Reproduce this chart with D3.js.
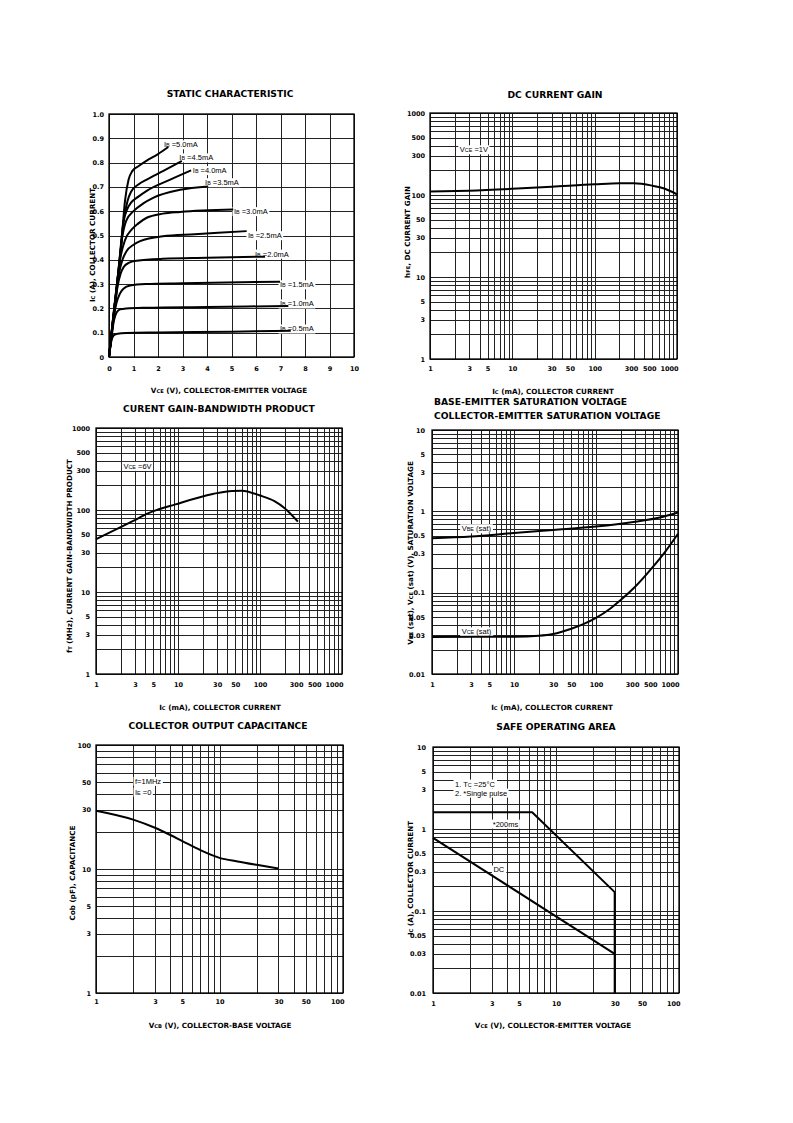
<!DOCTYPE html>
<html><head><meta charset="utf-8"><title>Transistor characteristics</title>
<script src="https://cdn.jsdelivr.net/npm/d3@7/dist/d3.min.js"></script>
<style>
html,body{margin:0;padding:0;background:#fff;}
svg{display:block;}
text{white-space:pre;}
</style></head><body>
<svg id="page" width="793" height="1123"></svg>
<script>
// ================= DATA =================
// Static characteristic (Vce [V], Ic [A]) for each base current
const staticXTicks = [0,1,2,3,4,5,6,7,8,9,10];
const staticYTicks = [0,0.1,0.2,0.3,0.4,0.5,0.6,0.7,0.8,0.9,1.0];
const ibNames = ["0.5","1.0","1.5","2.0","2.5","3.0","3.5","4.0","4.5","5.0"];
const ib05 = [[0,0],[0.05,0.04],[0.12,0.075],[0.2,0.09],[0.35,0.096],[0.7,0.099],[2,0.101],[5,0.104],[7.42,0.108]];
const ib10 = [[0,0],[0.1,0.08],[0.2,0.15],[0.31,0.183],[0.45,0.196],[0.7,0.2],[1.5,0.203],[4,0.206],[7.32,0.21]];
const ib15 = [[0,0],[0.15,0.13],[0.3,0.22],[0.45,0.262],[0.6,0.282],[0.86,0.294],[1.5,0.3],[3,0.303],[6.98,0.31]];
const ib20 = [[0,0],[0.2,0.18],[0.35,0.29],[0.48,0.345],[0.6,0.37],[0.8,0.387],[1.13,0.396],[2.2,0.404],[4,0.408],[6.37,0.413]];
const ib25 = [[0,0],[0.25,0.23],[0.4,0.34],[0.55,0.4],[0.72,0.436],[1,0.462],[1.27,0.477],[2.2,0.497],[3.5,0.505],[5.62,0.518]];
const ib30 = [[0,0],[0.3,0.28],[0.45,0.4],[0.65,0.48],[0.93,0.525],[1.2,0.55],[1.54,0.573],[2.2,0.59],[2.9,0.597],[5.07,0.607]];
const ib35 = [[0,0],[0.35,0.32],[0.52,0.48],[0.7,0.56],[1,0.6],[1.4,0.632],[1.8,0.655],[2.9,0.688],[4.05,0.702]];
const ib40 = [[0,0],[0.4,0.37],[0.58,0.55],[0.75,0.61],[0.9,0.635],[1.2,0.66],[1.54,0.684],[2.5,0.73],[3.35,0.768]];
const ib45 = [[0,0],[0.45,0.41],[0.6,0.56],[0.75,0.64],[0.9,0.68],[1.2,0.71],[1.54,0.73],[2.2,0.765],[2.97,0.807]];
const ib50 = [[0,0],[0.5,0.46],[0.65,0.64],[0.8,0.73],[0.95,0.765],[1.2,0.785],[1.54,0.808],[2,0.835],[2.42,0.864]];
const ibCurves = [ib05,ib10,ib15,ib20,ib25,ib30,ib35,ib40,ib45,ib50];
const ibLabelAt = [[6.98,0.128],[6.98,0.231],[6.98,0.31],[5.96,0.436],[5.67,0.512],[5.1,0.611],[3.92,0.73],[3.42,0.78],[2.87,0.832],[2.24,0.886]];

// log tick labels
const ticks1k = [1,3,5,10,30,50,100,300,500,1000];
const ticks100 = [1,3,5,10,30,50,100];
const ticksMilli = [0.01,0.03,0.05,0.1,0.3,0.5,1,3,5,10];

// DC current gain (Ic mA -> hFE)
const dcIc  = [1,3,10,30,100,200,300,500,700,1000];
const dcHfe = [110,113,119,126,135,139,139,130,120,102];
const dcLabelAt = [2.3,388];

// Gain-bandwidth product (Ic mA -> fT MHz)
const ftIc = [1,2.8,4.3,9.3,26.6,45.7,60,100,150,200,290];
const ftMHz = [44,73,91,117,157,171,172,150,128,105,72];
const ftLabelAt = [2.16,371];

// Saturation voltages (Ic mA -> V)
const vbeIc = [1,3,10,30,100,300,600,1000];
const vbeSat = [0.466,0.49,0.542,0.59,0.65,0.746,0.84,0.97];
const vceIc = [1,10,20,30,50,70,100,150,200,300,500,700,1000];
const vceSat = [0.0286,0.0287,0.0295,0.031,0.036,0.041,0.049,0.064,0.081,0.118,0.21,0.32,0.53];
const vbeLabelAt = [2.3,0.667];
const vceLabelAt = [2.3,0.036];

// Collector output capacitance (Vcb V -> Cob pF)
const cobV = [1,2,3,4,5,7,10,14,20,30];
const cobPf = [29.5,25,21.5,18.8,16.8,14.2,12.3,11.5,10.8,10.1];
const cobLabelAt = [[2.07,53.9],[2.07,44.2]];

// Safe operating area (Vce V -> Ic A)
const soaPulseV = [1,6.4,30,30];
const soaPulseI = [1.6,1.6,0.17,0.01];
const soaDcV = [1,30];
const soaDcI = [0.78,0.03];
const soaNoteAt = [[1.51,3.85],[1.51,2.99]];
const soaPulseLabelAt = [3.06,1.25];
const soaDcLabelAt = [3.1,0.345];

// ================= DRAWING =================
const svg = d3.select('#page');
const BOLD = '"DejaVu Sans", "Liberation Sans", sans-serif';
const REG = '"Liberation Sans", Arial, sans-serif';
const TICK = 6.5;

function rich(t, str, size){
  str.split(/(\{[^}]*\})/).filter(s=>s.length).forEach(p=>{
    if(p[0]==='{') t.append('tspan').attr('font-size',size*0.72).text(p.slice(1,-1));
    else t.append('tspan').attr('font-size',size).text(p);
  });
  return t;
}
function boxLabel(g, x, y, str, size){
  const grp = g.append('g');
  const t = grp.append('text').attr('x',x).attr('y',y).attr('dy','0.35em')
    .attr('font-family',REG).attr('fill','#000');
  rich(t,str,size);
  const bb = t.node().getBBox();
  grp.insert('rect','text').attr('x',bb.x-1.5).attr('y',bb.y).attr('width',bb.width+3)
    .attr('height',bb.height).attr('fill','#fff');
}
function logGrid(min,max){
  const out=[];
  for(let e=Math.floor(Math.log10(min)); e<Math.ceil(Math.log10(max)); e++)
    for(let k=1;k<=9;k++){ const v=k*Math.pow(10,e); if(v>=min*0.999 && v<=max*1.001) out.push(v); }
  out.push(max);
  return out;
}
function chart(o){
  const b=o.box;
  const g=svg.append('g');
  const grid=(sel)=>{sel.select('.domain').remove();
    sel.selectAll('line').attr('stroke','#222').attr('stroke-width',1).attr('shape-rendering','crispEdges');};
  g.append('g').attr('transform',`translate(0,${b.b})`)
    .call(d3.axisBottom(o.x).tickValues(o.xGrid).tickSize(-(b.b-b.t)).tickFormat('')).call(grid);
  g.append('g').attr('transform',`translate(${b.l},0)`)
    .call(d3.axisLeft(o.y).tickValues(o.yGrid).tickSize(-(b.r-b.l)).tickFormat('')).call(grid);
  g.append('rect').attr('x',b.l).attr('y',b.t).attr('width',b.r-b.l).attr('height',b.b-b.t)
    .attr('fill','none').attr('stroke','#000').attr('stroke-width',1.3);
  const styleT=(sel)=>{sel.select('.domain').remove();
    sel.selectAll('text').attr('font-family',BOLD).attr('font-weight','bold').attr('font-size',TICK).attr('fill','#000');};
  const ax=g.append('g').attr('transform',`translate(0,${b.b})`)
    .call(d3.axisBottom(o.x).tickValues(o.xTicks).tickSize(0).tickPadding(o.padX).tickFormat(o.fx)).call(styleT);
  if(o.shiftLast){
    const last=o.xTicks[o.xTicks.length-1];
    ax.selectAll('.tick').filter(d=>d===last).select('text').attr('text-anchor','end').attr('x',b.r+1-o.x(last));
    if(last===1000) ax.selectAll('.tick').filter(d=>d===300||d===500).select('text').attr('x',-3);
  }
  g.append('g').attr('transform',`translate(${b.l},0)`)
    .call(d3.axisLeft(o.y).tickValues(o.yTicks).tickSize(0).tickPadding(o.padY).tickFormat(o.fy)).call(styleT);
  o.title.forEach(tl=>{
    g.append('text').attr('x',tl[1]).attr('y',tl[2]).attr('dy','0.35em')
      .attr('text-anchor',tl[3]||'middle').attr('font-family',BOLD).attr('font-weight','bold')
      .attr('font-size',9.2).text(tl[0]);
  });
  rich(g.append('text').attr('x',o.xTitle[1]).attr('y',o.xTitle[2]).attr('dy','0.35em')
    .attr('text-anchor','middle').attr('font-family',BOLD).attr('font-weight','bold'), o.xTitle[0], 7.2);
  rich(g.append('text').attr('transform',`translate(${o.yTitle[1]},${o.yTitle[2]}) rotate(-90)`).attr('dy','0.35em')
    .attr('text-anchor','middle').attr('font-family',BOLD).attr('font-weight','bold'), o.yTitle[0], 7.2);
  return g;
}
function curve(g, pts, x, y, kind){
  g.append('path').datum(pts)
    .attr('d', d3.line().x(d=>x(d[0])).y(d=>y(d[1])).curve(kind||d3.curveMonotoneX))
    .attr('fill','none').attr('stroke','#000').attr('stroke-width',2).attr('stroke-linejoin','round');
}
const zip=(a,b)=>a.map((v,i)=>[v,b[i]]);
const fLog=d=>String(d);

// ---- 1. Static characteristic ----
{
  const box={l:109,r:354,t:114,b:357};
  const x=d3.scaleLinear().domain([0,10]).range([box.l,box.r]);
  const y=d3.scaleLinear().domain([0,1]).range([box.b,box.t]);
  const g=chart({box,x,y,xGrid:staticXTicks,yGrid:staticYTicks,xTicks:staticXTicks,yTicks:staticYTicks,
    fx:d=>String(d),fy:d=>d===0?'0':d.toFixed(1),padX:9,padY:5,
    title:[["STATIC CHARACTERISTIC",230,94]],
    xTitle:["V{CE} (V), COLLECTOR-EMITTER VOLTAGE",229,387],
    yTitle:["I{C} (A), COLLECTOR CURRENT",89,245]});
  ibLabelAt.forEach((p,i)=>boxLabel(g,x(p[0]),y(p[1]),"I{B} ="+ibNames[i]+"mA",7.5));
  ibCurves.forEach(c=>curve(g,c,x,y));
}
// ---- 2. DC current gain ----
{
  const box={l:430,r:677,t:113,b:359};
  const x=d3.scaleLog().domain([1,1000]).range([box.l,box.r]);
  const y=d3.scaleLog().domain([1,1000]).range([box.b,box.t]);
  const g=chart({box,x,y,xGrid:logGrid(1,1000),yGrid:logGrid(1,1000),xTicks:ticks1k,yTicks:ticks1k,
    fx:fLog,fy:fLog,padX:7.5,padY:5,shiftLast:true,
    title:[["DC CURRENT GAIN",555,95]],
    xTitle:["I{C} (mA), COLLECTOR CURRENT",553,388],
    yTitle:["h{FE}, DC CURRENT GAIN",404,232]});
  boxLabel(g,x(dcLabelAt[0]),y(dcLabelAt[1]),"V{CE} =1V",7.5);
  curve(g,zip(dcIc,dcHfe),x,y);
}
// ---- 3. Gain-bandwidth product ----
{
  const box={l:96,r:342,t:428,b:674};
  const x=d3.scaleLog().domain([1,1000]).range([box.l,box.r]);
  const y=d3.scaleLog().domain([1,1000]).range([box.b,box.t]);
  const g=chart({box,x,y,xGrid:logGrid(1,1000),yGrid:logGrid(1,1000),xTicks:ticks1k,yTicks:ticks1k,
    fx:fLog,fy:fLog,padX:8,padY:6,shiftLast:true,
    title:[["CURENT GAIN-BANDWIDTH PRODUCT",219,409]],
    xTitle:["I{C} (mA), COLLECTOR CURRENT",220,704],
    yTitle:["f{T} (MHz), CURRENT GAIN-BANDWIDTH PRODUCT",66,556]});
  boxLabel(g,x(ftLabelAt[0]),y(ftLabelAt[1]),"V{CE} =6V",7.5);
  curve(g,zip(ftIc,ftMHz),x,y);
}
// ---- 4. Saturation voltages ----
{
  const box={l:432,r:678,t:430,b:674};
  const x=d3.scaleLog().domain([1,1000]).range([box.l,box.r]);
  const y=d3.scaleLog().domain([0.01,10]).range([box.b,box.t]);
  const g=chart({box,x,y,xGrid:logGrid(1,1000),yGrid:logGrid(0.01,10),xTicks:ticks1k,yTicks:ticksMilli,
    fx:fLog,fy:fLog,padX:8,padY:7,shiftLast:true,
    title:[["BASE-EMITTER SATURATION VOLTAGE",434,402,'start'],["COLLECTOR-EMITTER SATURATION VOLTAGE",434,415.5,'start']],
    xTitle:["I{C} (mA), COLLECTOR CURRENT",552,704],
    yTitle:["V{BE} (sat), V{CE} (sat) (V), SATURATION VOLTAGE",407,553]});
  boxLabel(g,x(vbeLabelAt[0]),y(vbeLabelAt[1]),"V{BE} (sat)",7.5);
  boxLabel(g,x(vceLabelAt[0]),y(vceLabelAt[1]),"V{CE} (sat)",7.5);
  curve(g,zip(vbeIc,vbeSat),x,y);
  curve(g,zip(vceIc,vceSat),x,y);
}
// ---- 5. Collector output capacitance ----
{
  const box={l:96,r:343,t:745,b:993};
  const x=d3.scaleLog().domain([1,100]).range([box.l,box.r]);
  const y=d3.scaleLog().domain([1,100]).range([box.b,box.t]);
  const g=chart({box,x,y,xGrid:logGrid(1,100),yGrid:logGrid(1,100),xTicks:ticks100,yTicks:ticks100,
    fx:fLog,fy:fLog,padX:6,padY:5,shiftLast:true,
    title:[["COLLECTOR OUTPUT CAPACITANCE",218,726]],
    xTitle:["V{CB} (V), COLLECTOR-BASE VOLTAGE",220,1022],
    yTitle:["Cob (pF), CAPACITANCE",69,873]});
  boxLabel(g,x(cobLabelAt[0][0]),y(cobLabelAt[0][1]),"f=1MHz",7.5);
  boxLabel(g,x(cobLabelAt[1][0]),y(cobLabelAt[1][1]),"I{E} =0",7.5);
  curve(g,zip(cobV,cobPf),x,y);
}
// ---- 6. Safe operating area ----
{
  const box={l:433,r:679,t:747,b:993};
  const x=d3.scaleLog().domain([1,100]).range([box.l,box.r]);
  const y=d3.scaleLog().domain([0.01,10]).range([box.b,box.t]);
  const g=chart({box,x,y,xGrid:logGrid(1,100),yGrid:logGrid(0.01,10),xTicks:ticks100,yTicks:ticksMilli,
    fx:fLog,fy:fLog,padX:8,padY:7,shiftLast:true,
    title:[["SAFE OPERATING AREA",556,727]],
    xTitle:["V{CE} (V), COLLECTOR-EMITTER VOLTAGE",553,1022],
    yTitle:["I{C} (A), COLLECTOR CURRENT",407,878]});
  boxLabel(g,x(soaNoteAt[0][0]),y(soaNoteAt[0][1]),"1. T{C} =25°C",7.5);
  boxLabel(g,x(soaNoteAt[1][0]),y(soaNoteAt[1][1]),"2. *Single pulse",7.5);
  boxLabel(g,x(soaPulseLabelAt[0]),y(soaPulseLabelAt[1]),"*200ms",7.5);
  boxLabel(g,x(soaDcLabelAt[0]),y(soaDcLabelAt[1]),"DC",7.5);
  curve(g,zip(soaPulseV,soaPulseI),x,y,d3.curveLinear);
  curve(g,zip(soaDcV,soaDcI),x,y,d3.curveLinear);
}
</script>
</body></html>
